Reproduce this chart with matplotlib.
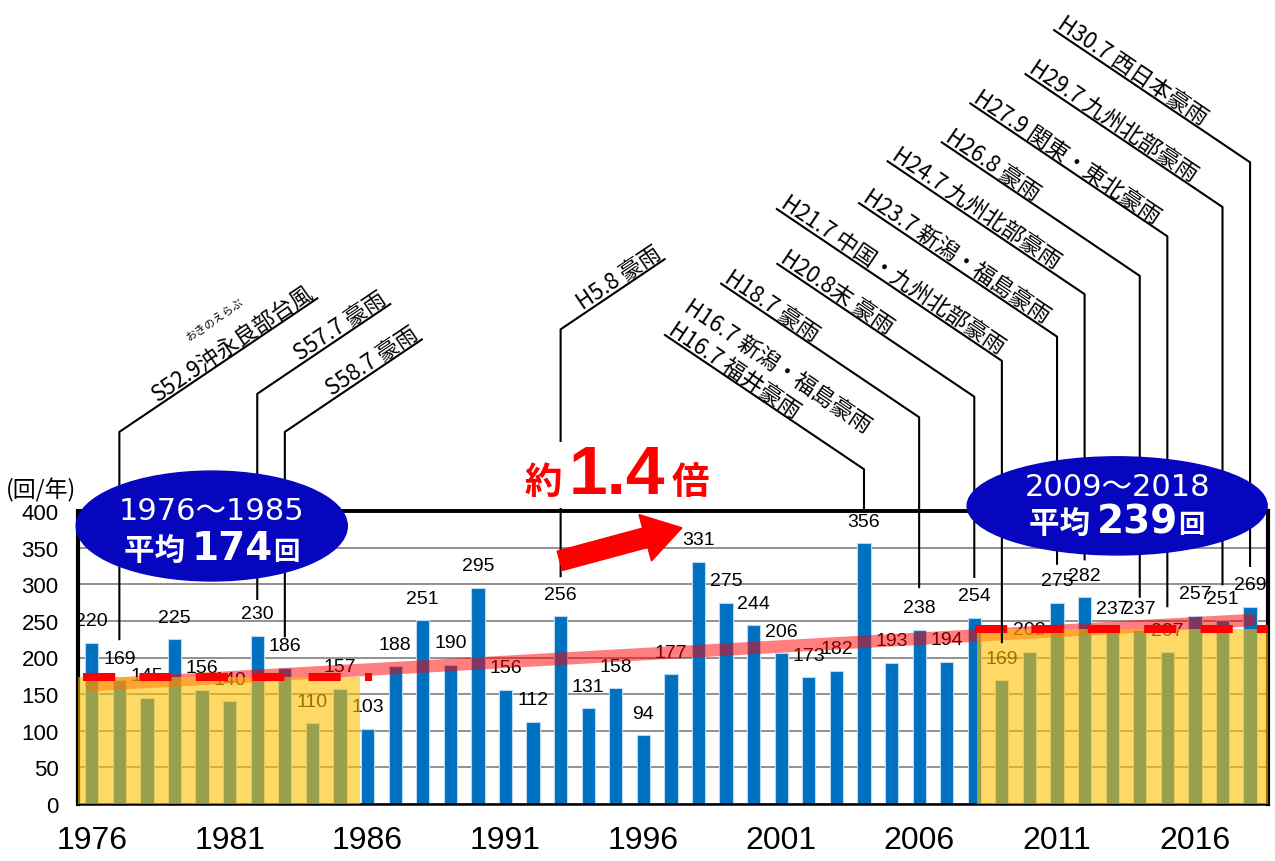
import numpy as np
import matplotlib
matplotlib.use('Agg')
import matplotlib.pyplot as plt
from matplotlib.patches import Ellipse, Rectangle, Polygon
from matplotlib.transforms import IdentityTransform
from matplotlib.offsetbox import TextArea, HPacker, AnnotationBbox

########## data ##########
years = np.arange(1976, 2019)
counts = [220, 169, 145, 225, 156, 140, 230, 186, 110, 157,
          103, 188, 251, 190, 295, 156, 112, 256, 131, 158,
          94, 177, 331, 275, 244, 206, 173, 182, 356, 193,
          238, 194, 254, 169, 208, 275, 282, 237, 237, 207,
          257, 251, 269]
tick_years = [1976, 1981, 1986, 1991, 1996, 2001, 2006, 2011, 2016]
early_span = (1976, 1985)
late_span = (2009, 2018)

# events: year, line bottom, corner, run (px), side, text lines
events = [
    (1977, 225, 508, 198, 1, ['S52.9沖永良部台風']),
    (1982, 280, 560, 133, 1, ['S57.7 豪雨']),
    (1983, 229, 508, 137, 1, ['S58.7 豪雨']),
    (1993, 311, 648, 104, 1, ['H5.8 豪雨']),
    (2004, 400, 457, 199, -1, ['H16.7 新潟・福島豪雨', 'H16.7 福井豪雨']),
    (2006, 296, 528, 198, -1, ['H18.7 豪雨']),
    (2008, 310, 556, 197, -1, ['H20.8末 豪雨']),
    (2009, 221, 605, 225, -1, ['H21.7 中国・九州北部豪雨']),
    (2011, 328, 638, 198, -1, ['H23.7 新潟・福島豪雨']),
    (2012, 334, 696, 197, -1, ['H24.7 九州北部豪雨']),
    (2014, 283, 721, 198, -1, ['H26.8 豪雨']),
    (2015, 270, 775, 197, -1, ['H27.9 関東・東北豪雨']),
    (2017, 300, 815, 197, -1, ['H29.7 九州北部豪雨']),
    (2018, 325, 876, 196, -1, ['H30.7 西日本豪雨']),
]
ruby = {1977: 'おきのえらぶ'}

########## setup ##########
plt.rcParams['font.family'] = ['Liberation Sans', 'Noto Sans CJK JP', 'DejaVu Sans']
JP = ['Noto Sans CJK JP', 'DejaVu Sans']
WIDE = ['DejaVu Sans', 'Noto Sans CJK JP']

fig = plt.figure(figsize=(12.75, 8.62), dpi=100)
ax = fig.add_axes([78/1275, 57/862, 1190/1275, 293/862])
ax.set_xlim(1975.5, 2018.65)
ax.set_ylim(0, 400)

ax.bar(years, counts, width=0.48, color='#0070C0', edgecolor='#BDD7EE', linewidth=0.8, zorder=2)
for x, v in zip(years, counts):
    t = ax.annotate(str(v), (x, v), xytext=(0, 22), textcoords='offset pixels',
                    ha='center', va='center', fontsize=14, zorder=3)
    t.set_clip_path(ax.patch)

ax.set_yticks(range(0, 401, 50))
ax.set_xticks(tick_years)
ax.yaxis.grid(True, color='#7F7F7F', lw=1.2)
ax.set_axisbelow(True)
ax.tick_params(axis='x', length=0, pad=15, labelsize=23)
ax.tick_params(axis='y', length=0, pad=14, labelsize=16)
ax.spines['top'].set_linewidth(2.8)
ax.spines['left'].set_linewidth(3)
ax.spines['right'].set_linewidth(3)
ax.spines['bottom'].set_linewidth(1.8)

# trend line
coef = np.polyfit(years, counts, 1)
ax.plot([years[0], years[-1]], np.polyval(coef, [years[0], years[-1]]), color='red', alpha=0.5,
        lw=9, solid_capstyle='round', zorder=3)

# period averages
def period(span, x0, x1, dx0, dx1):
    sel = (years >= span[0]) & (years <= span[1])
    avg = int(round(np.mean(np.array(counts)[sel])))
    ax.add_patch(Rectangle((x0, 0), x1 - x0, avg, color='#FFC000', alpha=0.6, lw=0, zorder=4))
    ax.plot([dx0, dx1], [avg, avg], color='red', lw=5.8, dashes=(4, 3), zorder=5)
    return avg

avg1 = period(early_span, 1975.5, 1985.72, 1975.67, 1986.16)
avg2 = period(late_span, 2008.1, 2018.65, 2008.03, 2018.65)

# leader lines
ANG = 34
a = np.deg2rad(ANG)
for year, vb, vc, run, side, lines in events:
    cx, cy = ax.transData.transform((year, vc))
    xe, ye = ax.transData.inverted().transform((cx + side*run, cy + run*np.tan(a)))
    ax.plot([year, year, xe], [vb, vc, ye], color='black', lw=1.5, clip_on=False, zorder=6)
    if side > 0:
        nx, ny, rot, ha = -np.sin(a), np.cos(a), ANG, 'right'
    else:
        nx, ny, rot, ha = np.sin(a), np.cos(a), -ANG, 'left'
    for i, s in enumerate(reversed(lines)):
        d = 4 + i*26
        ax.annotate(s, (xe, ye), xytext=(nx*d, ny*d), textcoords='offset pixels', rotation=rot,
                    rotation_mode='anchor', ha=ha, va='baseline', fontsize=16, family=JP,
                    zorder=6, annotation_clip=False)
    if year in ruby:
        ux, uy = np.cos(a), np.sin(a)
        ax.annotate(ruby[year], (xe, ye), xytext=(-96*ux + 40*nx, -96*uy + 40*ny),
                    textcoords='offset pixels', rotation=rot, rotation_mode='anchor',
                    ha='center', va='center', fontsize=8, family=JP, zorder=6,
                    annotation_clip=False)

# blue ellipses
def rich(parts, xy, frame=False, sep=0):
    box = HPacker(children=[TextArea(s, textprops=p) for s, p in parts], align='baseline', pad=0, sep=sep)
    ab = AnnotationBbox(box, xy, frameon=frame, box_alignment=(0.5, 0.5), annotation_clip=False,
                        zorder=8, pad=0.05, bboxprops=dict(fc='white', ec='none'))
    ax.add_artist(ab)

for (cx, cy, w, h), span, avg, y1, y2 in [((1980.35, 379.5, 9.83, 150), early_span, avg1, 400, 349.5),
                                          ((2013.18, 407, 10.88, 134), late_span, avg2, 434, 386)]:
    ax.add_patch(Ellipse((cx, cy), w, h, color='#0606BF', zorder=7, clip_on=False))
    ax.text(cx, y1, '%d～%d' % span, ha='center', va='center', color='white', fontsize=22,
            family=WIDE, zorder=8, clip_on=False)
    wt = dict(color='white', fontweight='bold')
    rich([('平均 ', dict(fontsize=22, family=JP, **wt)),
          (str(avg), dict(fontsize=28, family=WIDE, **wt)),
          ('回', dict(fontsize=19, family=JP, **wt))], (cx, y2))

# ratio text and arrow
rt = dict(color='red', fontweight='bold')
rich([('約', dict(fontsize=27, family=JP, **rt)),
      ('1.4', dict(fontsize=50, family=['Liberation Sans'], **rt)),
      ('倍', dict(fontsize=27, family=JP, **rt))], (1995.04, 449), frame=True, sep=5)

tail = ax.transData.transform((1992.97, 332))
tip = ax.transData.transform((1997.4, 377))
u = (tip - tail) / np.linalg.norm(tip - tail)
n = np.array([-u[1], u[0]])
hb = tip - 38*u
pts = [tail + 10*n, hb + 10*n, hb + 24*n, tip, hb - 24*n, hb - 10*n, tail - 10*n]
fig.add_artist(Polygon(pts, closed=True, color='red', transform=IdentityTransform(), zorder=9))

fig.text(41/1275, 1 - 490/862, '(回/年)', ha='center', va='center', fontsize=16.5, family=JP)

fig.savefig('out.png', dpi=100, facecolor='white')
